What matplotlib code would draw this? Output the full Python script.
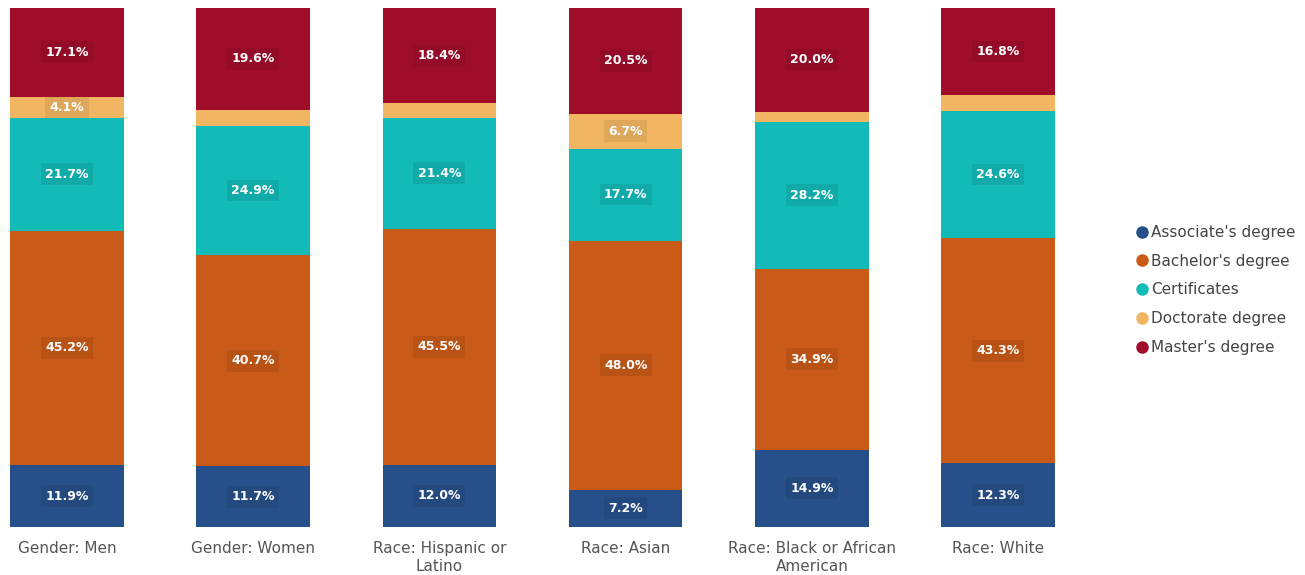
import numpy as np
import matplotlib.pyplot as plt

# Share of graduates by award type, per group (percent)
groups = ['Gender: Men', 'Gender: Women', 'Race: Hispanic or\nLatino',
          'Race: Asian', 'Race: Black or African\nAmerican', 'Race: White']
associate = [11.9, 11.7, 12.0, 7.2, 14.9, 12.3]
bachelor = [45.2, 40.7, 45.5, 48.0, 34.9, 43.3]
certificates = [21.7, 24.9, 21.4, 17.7, 28.2, 24.6]
doctorate = [4.1, 3.1, 2.7, 6.7, 2.0, 3.0]
master = [17.1, 19.6, 18.4, 20.5, 20.0, 16.8]

series = [
    ("Associate's degree", associate, '#27508a'),
    ("Bachelor's degree", bachelor, '#c95a17'),
    ('Certificates', certificates, '#12bab8'),
    ('Doctorate degree', doctorate, '#f2b662'),
    ("Master's degree", master, '#a00d2b'),
]

fig = plt.figure(figsize=(13.05, 5.75), dpi=100)
ax = fig.add_axes([10 / 1305, 1 - 527 / 575, 1045 / 1305, 519 / 575])

x = np.arange(len(groups))
width = 0.61
bottom = np.zeros(len(groups))
for name, vals, color in series:
    vals = np.array(vals)
    ax.bar(x, vals, width, bottom=bottom, color=color, label=name)
    for xi, b, v in zip(x, bottom, vals):
        if v >= 3.5:
            ax.text(xi, b + v / 2, f'{v:.1f}%', ha='center', va='center',
                    color='white', fontsize=9, fontweight='bold',
                    bbox=dict(boxstyle='square,pad=0.35', facecolor='black',
                              alpha=0.08, edgecolor='none'))
    bottom += vals

ax.set_xlim(-width / 2, len(groups) - 1 + width / 2)
ax.set_ylim(0, 100)
ax.set_xticks(x)
ax.set_xticklabels(groups, fontsize=11, color='#555555', linespacing=1.3)
ax.tick_params(axis='x', length=0, pad=10)
ax.set_yticks([])
for spine in ax.spines.values():
    spine.set_visible(False)

leg_handles = [plt.Line2D([], [], marker='o', linestyle='none', color=c,
                          markersize=8) for _, _, c in series]
fig.legend(leg_handles, [s[0] for s in series], loc='center left',
           bbox_to_anchor=(1127 / 1305, 1 - 290 / 575), frameon=False,
           fontsize=11, labelcolor='#444444', handletextpad=0.1,
           labelspacing=0.9, borderpad=0, handlelength=1.0)

fig.savefig('out.png', dpi=100)
